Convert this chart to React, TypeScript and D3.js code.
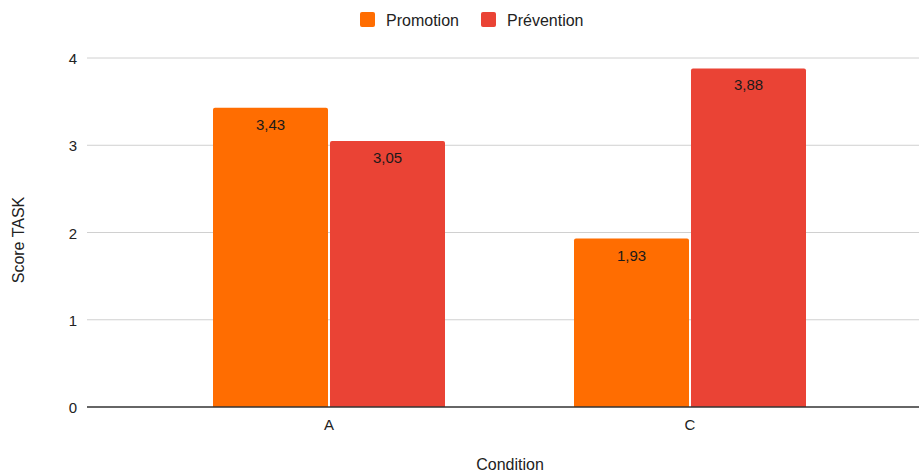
import React from "react";
import * as d3 from "d3";

const categories = ["A", "C"];
const seriesNames = ["Promotion", "Prévention"];
const promotion = [3.43, 1.93];
const prevention = [3.05, 3.88];
const yTicks = [0, 1, 2, 3, 4];
const colors = ["#FF6D01", "#EA4335"];

const W = 919;
const H = 474;

export default function App() {
  const plotLeft = 87;
  const plotRight = 919;
  const y = d3.scaleLinear().domain([0, 4]).range([407, 58]);
  const x0 = d3.scaleBand<string>().domain(categories).range([148.5, 870.5]).padding(0);
  const groupW = 232;
  const x1 = d3
    .scaleBand<string>()
    .domain(seriesNames)
    .range([(x0.bandwidth() - groupW) / 2, (x0.bandwidth() + groupW) / 2])
    .paddingInner(0.017);
  const values = [promotion, prevention];
  const fmt = (v: number) => v.toFixed(2).replace(".", ",");
  const font = "'Liberation Sans', Arial, sans-serif";

  const barPath = (x: number, yt: number, w: number, yb: number, r: number) =>
    `M${x},${yb}V${yt + r}Q${x},${yt} ${x + r},${yt}H${x + w - r}Q${x + w},${yt} ${x + w},${yt + r}V${yb}Z`;

  return (
    <svg width={W} height={H} style={{ position: "absolute", left: 0, top: 0, background: "#fff" }} fontFamily={font}>
      {/* legend */}
      <g>
        <rect x={360} y={12} width={15} height={15} rx={2} fill={colors[0]} />
        <text x={386} y={25.5} fontSize={16} fill="#222">{seriesNames[0]}</text>
        <rect x={481} y={12} width={15} height={15} rx={2} fill={colors[1]} />
        <text x={507} y={25.5} fontSize={16} fill="#222">{seriesNames[1]}</text>
      </g>
      {/* grid */}
      {yTicks.map((t) => (
        <g key={t}>
          {t !== 0 && (
            <line x1={plotLeft} x2={plotRight} y1={y(t)} y2={y(t)} stroke="#d0d0d0" strokeWidth={1} />
          )}
          <text x={77} y={y(t) + 6} fontSize={15} textAnchor="end" fill="#222">{t}</text>
        </g>
      ))}
      {/* bars */}
      {categories.map((c, ci) => (
        <g key={c} transform={`translate(${x0(c)},0)`}>
          {seriesNames.map((s, si) => {
            const v = values[si][ci];
            const bx = x1(s)!;
            const bw = x1.bandwidth();
            return (
              <g key={s}>
                <path d={barPath(bx, y(v), bw, y(0), 2)} fill={colors[si]} />
                <text x={bx + bw / 2} y={y(v) + 22} fontSize={15} textAnchor="middle" fill="#1a1a1a">{fmt(v)}</text>
              </g>
            );
          })}
          <text x={x0.bandwidth() / 2} y={430} fontSize={15} textAnchor="middle" fill="#222">{c}</text>
        </g>
      ))}
      {/* baseline */}
      <line x1={plotLeft} x2={plotRight} y1={y(0)} y2={y(0)} stroke="#333" strokeWidth={1.3} />
      {/* axis titles */}
      <text x={510} y={470} fontSize={16} textAnchor="middle" fill="#222">Condition</text>
      <text transform="translate(24,240) rotate(-90)" fontSize={16} textAnchor="middle" fill="#222">Score TASK</text>
    </svg>
  );
}
